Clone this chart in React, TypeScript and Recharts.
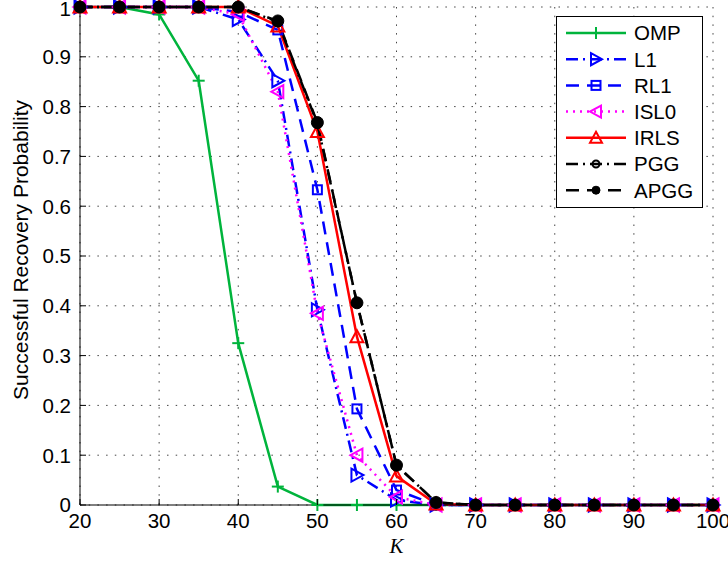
import React from "react";
import {
  LineChart,
  Line,
  XAxis,
  YAxis,
  CartesianGrid,
  Legend,
} from "recharts";

const kValues = [20, 25, 30, 35, 40, 45, 50, 55, 60, 65, 70, 75, 80, 85, 90, 95, 100];

const omp = [1, 1, 0.985, 0.852, 0.325, 0.037, 0, 0, 0, 0, 0, 0, 0, 0, 0, 0, 0];
const l1 = [1, 1, 1, 1, 0.975, 0.852, 0.392, 0.06, 0.01, 0, 0, 0, 0, 0, 0, 0, 0];
const rl1 = [1, 1, 1, 1, 0.99, 0.954, 0.633, 0.193, 0.03, 0, 0, 0, 0, 0, 0, 0, 0];
const isl0 = [1, 1, 1, 1, 0.985, 0.83, 0.385, 0.1, 0.016, 0, 0, 0, 0, 0, 0, 0, 0];
const irls = [1, 1, 1, 1, 1, 0.962, 0.75, 0.338, 0.058, 0.002, 0, 0, 0, 0, 0, 0, 0];
const pgg = [1, 1, 1, 1, 1, 0.97, 0.766, 0.406, 0.08, 0.005, 0, 0, 0, 0, 0, 0, 0];
const apgg = [1, 1, 1, 1, 1, 0.972, 0.768, 0.406, 0.08, 0.005, 0, 0, 0, 0, 0, 0, 0];

const xTicks = [20, 30, 40, 50, 60, 70, 80, 90, 100];
const yTicks = [0, 0.1, 0.2, 0.3, 0.4, 0.5, 0.6, 0.7, 0.8, 0.9, 1];

type Marker = "plus" | "triRight" | "square" | "triLeft" | "triUp" | "circle" | "dot";

const series: { key: string; name: string; values: number[]; color: string; dash?: string; marker: Marker }[] = [
  { key: "omp", name: "OMP", values: omp, color: "#00b43c", marker: "plus" },
  { key: "l1", name: "L1", values: l1, color: "#0000ff", dash: "12 5 2 5", marker: "triRight" },
  { key: "rl1", name: "RL1", values: rl1, color: "#0000ff", dash: "13 8", marker: "square" },
  { key: "isl0", name: "ISL0", values: isl0, color: "#ff00ff", dash: "2 5", marker: "triLeft" },
  { key: "irls", name: "IRLS", values: irls, color: "#ff0000", marker: "triUp" },
  { key: "pgg", name: "PGG", values: pgg, color: "#000000", dash: "12 5 2 5", marker: "circle" },
  { key: "apgg", name: "APGG", values: apgg, color: "#000000", dash: "13 8", marker: "dot" },
];

const data = kValues.map((k, i) => {
  const row: Record<string, number> = { k };
  series.forEach((s) => {
    row[s.key] = s.values[i];
  });
  return row;
});

const FONT = "'Liberation Sans', Arial, Helvetica, sans-serif";

function renderMarker(type: Marker, cx: number, cy: number, color: string, key?: string, small?: boolean) {
  const sw = 2;
  const t = small ? 6 : 6.5;
  switch (type) {
    case "plus":
      return (
        <g key={key}>
          <line x1={cx - 6} y1={cy} x2={cx + 6} y2={cy} stroke={color} strokeWidth={sw} />
          <line x1={cx} y1={cy - 6} x2={cx} y2={cy + 6} stroke={color} strokeWidth={sw} />
        </g>
      );
    case "triRight":
      return (
        <polygon key={key} points={`${cx - t + 1},${cy - t} ${cx + t},${cy} ${cx - t + 1},${cy + t}`} fill="none" stroke={color} strokeWidth={sw} />
      );
    case "triLeft":
      return (
        <polygon key={key} points={`${cx + t - 1},${cy - t} ${cx - t},${cy} ${cx + t - 1},${cy + t}`} fill="none" stroke={color} strokeWidth={sw} />
      );
    case "triUp":
      return (
        <polygon key={key} points={`${cx},${cy - t} ${cx + t},${cy + t - 1} ${cx - t},${cy + t - 1}`} fill="none" stroke={color} strokeWidth={sw} />
      );
    case "square":
      return <rect key={key} x={cx - 4.5} y={cy - 4.5} width={9} height={9} fill="none" stroke={color} strokeWidth={sw} />;
    case "circle":
      return <circle key={key} cx={cx} cy={cy} r={small ? 3.5 : 4.5} fill="none" stroke={color} strokeWidth={sw} />;
    default:
      return <circle key={key} cx={cx} cy={cy} r={small ? 4 : 6} fill={color} stroke={color} />;
  }
}

function BottomTick(props: any) {
  const { x, y, payload } = props;
  const base = y - 8;
  return (
    <g>
      <line x1={x} y1={base} x2={x} y2={base - 6} stroke="#000" strokeWidth={1} />
      <text x={x} y={y} dy="0.72em" textAnchor="middle" fontSize={20.5} fontFamily={FONT} fill="#000">
        {payload.value}
      </text>
    </g>
  );
}

function TopTick(props: any) {
  const { x, y } = props;
  return <line x1={x} y1={y} x2={x} y2={y + 6} stroke="#000" strokeWidth={1} />;
}

function LeftTick(props: any) {
  const { x, y, payload } = props;
  const base = x + 9;
  return (
    <g>
      <line x1={base} y1={y} x2={base + 6} y2={y} stroke="#000" strokeWidth={1} />
      <text x={x} y={y} dy="0.36em" textAnchor="end" fontSize={20.5} fontFamily={FONT} fill="#000">
        {String(payload.value)}
      </text>
    </g>
  );
}

function RightTick(props: any) {
  const { x, y } = props;
  return <line x1={x} y1={y} x2={x - 6} y2={y} stroke="#000" strokeWidth={1} />;
}

function LegendBox() {
  const rowH = 26.2;
  return (
    <svg width={147} height={192} style={{ display: "block" }}>
      <rect x={0.5} y={0.5} width={146} height={191} fill="#fff" stroke="#000" strokeWidth={1} />
      {series.map((s, i) => {
        const cy = 17 + i * rowH;
        return (
          <g key={s.key}>
            <line x1={10} y1={cy} x2={70} y2={cy} stroke={s.color} strokeWidth={2.5} strokeDasharray={s.dash} />
            {renderMarker(s.marker, 40, cy, s.color, undefined, true)}
            <text x={78} y={cy} dy="0.36em" fontSize={20.5} fontFamily={FONT} fill="#000">
              {s.name}
            </text>
          </g>
        );
      })}
    </svg>
  );
}

export default function App() {
  return (
    <div style={{ position: "absolute", left: 0, top: 0, background: "#fff" }}>
      <LineChart width={728} height={563} data={data} margin={{ top: 7, right: 15, bottom: 0, left: 0 }}>
        <CartesianGrid stroke="#444" strokeDasharray="1.5 7.2" />
        <XAxis
          dataKey="k"
          type="number"
          domain={[20, 100]}
          ticks={xTicks}
          height={58}
          tickSize={0}
          tickMargin={8}
          tick={<BottomTick />}
          axisLine={{ stroke: "#000", strokeWidth: 1 }}
          label={(p: any) => {
            const vb = p.viewBox;
            return (
              <text x={vb.x + vb.width / 2} y={vb.y + 48} textAnchor="middle" fontSize={21} fontStyle="italic" fontFamily="'Liberation Serif', 'Times New Roman', serif" fill="#000">
                K
              </text>
            );
          }}
        />
        <XAxis
          xAxisId="top"
          orientation="top"
          dataKey="k"
          type="number"
          domain={[20, 100]}
          ticks={xTicks}
          height={0}
          tickSize={0}
          tickMargin={0}
          tick={<TopTick />}
          axisLine={{ stroke: "#000", strokeWidth: 1 }}
        />
        <YAxis
          type="number"
          domain={[0, 1]}
          ticks={yTicks}
          width={80}
          tickSize={0}
          tickMargin={9}
          tick={<LeftTick />}
          axisLine={{ stroke: "#000", strokeWidth: 1 }}
          label={(p: any) => {
            const vb = p.viewBox;
            const cx = vb.x + 20;
            const cy = vb.y + vb.height / 2 - 6;
            return (
              <text x={cx} y={cy} transform={`rotate(-90 ${cx} ${cy})`} dy="0.36em" textAnchor="middle" fontSize={21} fontFamily={FONT} fill="#000">
                Successful Recovery Probability
              </text>
            );
          }}
        />
        <YAxis
          yAxisId="right"
          orientation="right"
          type="number"
          domain={[0, 1]}
          ticks={yTicks}
          width={0}
          tickSize={0}
          tickMargin={0}
          tick={<RightTick />}
          axisLine={{ stroke: "#000", strokeWidth: 1 }}
        />
        <Legend
          layout="vertical"
          align="center"
          verticalAlign="middle"
          wrapperStyle={{ left: 556, top: 16, width: 147, height: 192 }}
          content={() => <LegendBox />}
        />
        {series.map((s) => (
          <Line
            key={s.key}
            dataKey={s.key}
            name={s.name}
            stroke={s.color}
            strokeWidth={2.5}
            strokeDasharray={s.dash}
            isAnimationActive={false}
            dot={(p: any) => renderMarker(s.marker, p.cx, p.cy, s.color, `${s.key}-${p.index}`)}
            activeDot={false}
          />
        ))}
      </LineChart>
    </div>
  );
}
